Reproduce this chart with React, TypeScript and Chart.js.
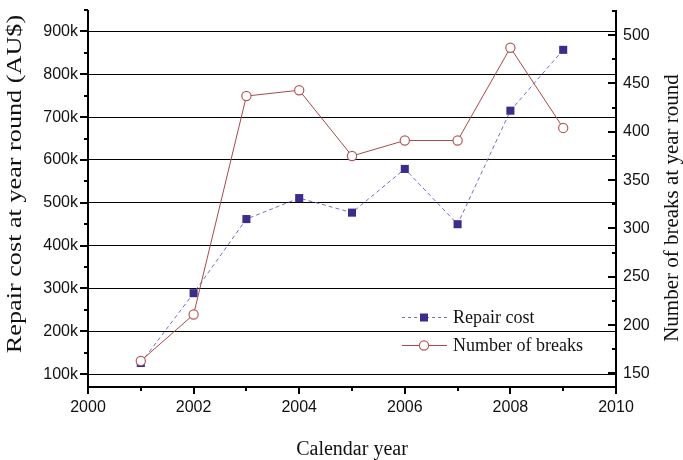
import React, { useEffect, useRef } from "react";
import { Chart, registerables } from "chart.js";

Chart.register(...registerables);

// ---- data ----
const years = [2001, 2002, 2003, 2004, 2005, 2006, 2007, 2008, 2009];
const repairCost = [126000, 289000, 462000, 511000, 477000, 579000, 450000, 715000, 857000];
const numberOfBreaks = [163, 211, 437, 443, 375, 391, 391, 487, 404];

const xMajorTicks = [2000, 2002, 2004, 2006, 2008, 2010];
const xMinorTicks = [2001, 2003, 2005, 2007, 2009];
const costTicks = [100000, 200000, 300000, 400000, 500000, 600000, 700000, 800000, 900000];
const costMinorTicks = [150000, 250000, 350000, 450000, 550000, 650000, 750000, 850000, 950000];
const breaksTicks = [150, 200, 250, 300, 350, 400, 450, 500];
const breaksMinorTicks = [175, 225, 275, 325, 375, 425, 475, 525];

const seriesLabels = ["Repair cost", "Number of breaks"];
const xTitle = "Calendar year";
const yTitle = "Repair cost at year round (AU$)";
const y2Title = "Number of breaks at year round";

// ---- styles ----
const SANS = "'Liberation Sans', Arial, sans-serif";
const SERIF = "'Liberation Serif', 'Times New Roman', serif";
const costLine = "#6f6fc8";
const costMarker = "#3a2e8a";
const breaksLine = "#a84a4a";
const breaksMarker = "#b55a5a";

const axesPlugin = {
  id: "axesPlugin",
  afterDatasetsDraw(chart: any) {
    const { ctx, chartArea, scales } = chart;
    const { left, right, top, bottom } = chartArea;
    const x = scales.x, y = scales.y, y2 = scales.y2;
    ctx.save();
    ctx.strokeStyle = "#000";
    ctx.lineCap = "butt";
    // axis lines
    ctx.lineWidth = 2;
    ctx.beginPath();
    ctx.moveTo(left, top);
    ctx.lineTo(left, bottom + 1);
    ctx.moveTo(right, top);
    ctx.lineTo(right, bottom + 1);
    ctx.moveTo(left - 1, bottom);
    ctx.lineTo(right + 1, bottom);
    ctx.stroke();
    // ticks
    ctx.lineWidth = 2;
    ctx.beginPath();
    for (const v of costTicks) {
      const p = Math.round(y.getPixelForValue(v));
      ctx.moveTo(left - 8, p);
      ctx.lineTo(left, p);
    }
    for (const v of costMinorTicks) {
      const p = Math.round(y.getPixelForValue(v));
      ctx.moveTo(left - 4, p);
      ctx.lineTo(left, p);
    }
    for (const v of breaksTicks) {
      const p = Math.round(y2.getPixelForValue(v));
      ctx.moveTo(right - 8, p);
      ctx.lineTo(right, p);
    }
    for (const v of breaksMinorTicks) {
      const p = Math.round(y2.getPixelForValue(v));
      ctx.moveTo(right - 4, p);
      ctx.lineTo(right, p);
    }
    for (const v of xMajorTicks) {
      const p = Math.round(x.getPixelForValue(v));
      ctx.moveTo(p, bottom);
      ctx.lineTo(p, bottom + 7);
    }
    for (const v of xMinorTicks) {
      const p = Math.round(x.getPixelForValue(v));
      ctx.moveTo(p, bottom);
      ctx.lineTo(p, bottom + 4);
    }
    ctx.stroke();

    // y axis titles (both read bottom to top)
    ctx.fillStyle = "#111";
    ctx.textAlign = "center";
    ctx.textBaseline = "alphabetic";
    ctx.save();
    ctx.font = `20px ${SERIF}`;
    ctx.translate(21, 184);
    ctx.rotate(-Math.PI / 2);
    ctx.scale(1.31, 1);
    ctx.fillText(yTitle, 0, 0);
    ctx.restore();
    ctx.save();
    ctx.font = `21px ${SERIF}`;
    ctx.translate(678, 208);
    ctx.rotate(-Math.PI / 2);
    ctx.fillText(y2Title, 0, 0);
    ctx.restore();

    // legend
    const lx0 = left + 314, lx1 = left + 359, lm = left + 336, tx = left + 365;
    const rows = [bottom - 70, bottom - 42];
    ctx.font = `18px ${SERIF}`;
    ctx.textAlign = "left";
    ctx.textBaseline = "middle";
    // row 1: repair cost
    ctx.lineWidth = 1;
    ctx.strokeStyle = costLine;
    ctx.setLineDash([3, 3]);
    ctx.beginPath();
    ctx.moveTo(lx0, rows[0] + 0.5);
    ctx.lineTo(lx1, rows[0] + 0.5);
    ctx.stroke();
    ctx.setLineDash([]);
    ctx.fillStyle = costMarker;
    ctx.fillRect(lm - 4, rows[0] - 3.5, 8, 8);
    ctx.fillStyle = "#111";
    ctx.fillText(seriesLabels[0], tx, rows[0] + 1);
    // row 2: breaks
    ctx.strokeStyle = breaksLine;
    ctx.beginPath();
    ctx.moveTo(lx0, rows[1] + 0.5);
    ctx.lineTo(lx1, rows[1] + 0.5);
    ctx.stroke();
    ctx.beginPath();
    ctx.arc(lm, rows[1] + 0.5, 4.6, 0, Math.PI * 2);
    ctx.fillStyle = "#fff";
    ctx.fill();
    ctx.strokeStyle = breaksMarker;
    ctx.lineWidth = 1.2;
    ctx.stroke();
    ctx.fillStyle = "#111";
    ctx.fillText(seriesLabels[1], tx, rows[1] + 1);
    ctx.restore();
  },
};

export default function App() {
  const ref = useRef<HTMLCanvasElement>(null);
  useEffect(() => {
    const chart = new Chart(ref.current as HTMLCanvasElement, {
      type: "line",
      data: {
        datasets: [
          {
            label: seriesLabels[0],
            data: years.map((yr, i) => ({ x: yr, y: repairCost[i] })),
            yAxisID: "y",
            order: 1,
            borderColor: costLine,
            borderWidth: 1,
            borderDash: [4, 3],
            pointStyle: "rect",
            pointRadius: 5.7,
            pointBackgroundColor: costMarker,
            pointBorderColor: costMarker,
            pointBorderWidth: 0,
            tension: 0,
            fill: false,
          },
          {
            label: seriesLabels[1],
            data: years.map((yr, i) => ({ x: yr, y: numberOfBreaks[i] })),
            yAxisID: "y2",
            order: 0,
            borderColor: breaksLine,
            borderWidth: 1,
            pointStyle: "circle",
            pointRadius: 4.6,
            pointBackgroundColor: "#ffffff",
            pointBorderColor: breaksMarker,
            pointBorderWidth: 1.2,
            tension: 0,
            fill: false,
          },
        ],
      },
      options: {
        animation: false,
        responsive: true,
        maintainAspectRatio: false,
        layout: { padding: { top: 10, left: 0, right: 0, bottom: 0 } },
        plugins: { legend: { display: false }, tooltip: { enabled: false } },
        scales: {
          x: {
            type: "linear",
            min: 2000,
            max: 2010,
            afterBuildTicks: (s: any) => {
              s.ticks = xMajorTicks.map((v) => ({ value: v }));
            },
            afterFit: (s: any) => {
              s.height = 73;
              s.paddingLeft = 0;
              s.paddingRight = 0;
            },
            ticks: {
              font: { family: SANS, size: 16 },
              color: "#111",
              padding: 11,
              maxRotation: 0,
              autoSkip: false,
              callback: (v: any) => String(v),
            },
            grid: { display: false, drawTicks: false },
            border: { display: false },
            title: {
              display: true,
              text: xTitle,
              color: "#111",
              font: { family: SERIF, size: 20, lineHeight: 1 },
              padding: { top: 0, bottom: 0 },
            },
          },
          y: {
            type: "linear",
            position: "left",
            min: 70000,
            max: 950000,
            afterBuildTicks: (s: any) => {
              s.ticks = costTicks.map((v) => ({ value: v }));
            },
            afterFit: (s: any) => {
              s.width = 88;
              s.paddingTop = 0;
              s.paddingBottom = 0;
            },
            ticks: {
              font: { family: SANS, size: 16 },
              color: "#111",
              padding: 10,
              autoSkip: false,
              callback: (v: any) => `${Number(v) / 1000}k`,
            },
            grid: { color: "#000", lineWidth: 1, drawTicks: false },
            border: { display: false },
          },
          y2: {
            type: "linear",
            position: "right",
            min: 136,
            max: 526,
            afterBuildTicks: (s: any) => {
              s.ticks = breaksTicks.map((v) => ({ value: v }));
            },
            afterFit: (s: any) => {
              s.width = 67;
              s.paddingTop = 0;
              s.paddingBottom = 0;
            },
            ticks: {
              font: { family: SANS, size: 16 },
              color: "#111",
              padding: 7,
              autoSkip: false,
              callback: (v: any) => String(v),
            },
            grid: { display: false, drawTicks: false },
            border: { display: false },
          },
        },
      },
      plugins: [axesPlugin],
    });
    return () => chart.destroy();
  }, []);
  return (
    <div style={{ position: "absolute", left: 0, top: 0, width: 683, height: 460 }}>
      <canvas ref={ref} />
    </div>
  );
}
